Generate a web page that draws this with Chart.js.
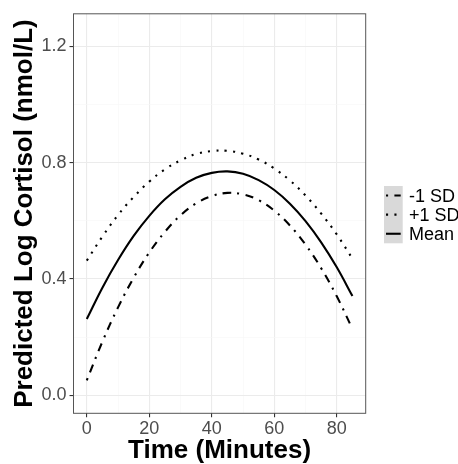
<!DOCTYPE html>
<html>
<head>
<meta charset="utf-8">
<script src="https://cdn.jsdelivr.net/npm/chart.js@4/dist/chart.umd.min.js"></script>
<style>
  html, body { margin: 0; padding: 0; background: #fff; }
  #wrap { width: 458px; height: 464px; position: relative; }
</style>
</head>
<body>
<div id="wrap"><canvas id="cortisolChart"></canvas></div>
<script>
// data (minutes vs predicted log cortisol)
const times = [0, 5, 10, 15, 20, 25, 30, 35, 40, 45, 50, 55, 60, 65, 70, 75, 80, 85];
const minusSD = [0.051, 0.184, 0.302, 0.404, 0.491, 0.562, 0.619, 0.660, 0.685, 0.696, 0.691, 0.671, 0.635, 0.584, 0.518, 0.437, 0.340, 0.228];
const plusSD = [0.463, 0.546, 0.620, 0.682, 0.735, 0.777, 0.808, 0.830, 0.840, 0.841, 0.831, 0.811, 0.780, 0.739, 0.687, 0.625, 0.553, 0.470];
const meanLine = [0.262, 0.370, 0.465, 0.548, 0.617, 0.674, 0.717, 0.748, 0.765, 0.770, 0.762, 0.740, 0.706, 0.659, 0.599, 0.526, 0.440, 0.341];
const seriesNames = ["-1 SD", "+1 SD", "Mean"];

const xTicks = [0, 20, 40, 60, 80];
const xMinor = [10, 30, 50, 70];
const yTicks = [0.0, 0.4, 0.8, 1.2];
const yMinor = [0.2, 0.6, 1.0];

const FONT = "'Liberation Sans', Arial, sans-serif";
const LW = 2.1;
const dashes = [[LW, 3 * LW, 4 * LW, 3 * LW], [LW, 3 * LW], []];

const isMajor = (list, v) => list.some((t) => Math.abs(t - v) < 1e-6);

// panel border + legend drawn by hand, ggplot style
const ggExtras = {
  id: "ggExtras",
  afterDatasetsDraw(chart) {
    const { ctx, chartArea: a } = chart;
    ctx.save();
    ctx.strokeStyle = "#555555";
    ctx.lineWidth = 1;
    ctx.strokeRect(a.left, a.top, a.right - a.left, a.bottom - a.top);
    ctx.restore();
  },
  afterDraw(chart) {
    const { ctx } = chart;
    const keyX = 384, keyW = 18.7, keyY = 186, keyH = 19.1;
    ctx.save();
    ctx.fillStyle = "#D9D9D9";
    ctx.fillRect(keyX, keyY, keyW, keyH * seriesNames.length);
    chart.data.datasets.forEach((ds, i) => {
      const cy = keyY + keyH * i + keyH / 2;
      ctx.beginPath();
      ctx.setLineDash(ds.borderDash);
      ctx.lineCap = "butt";
      ctx.lineWidth = LW;
      ctx.strokeStyle = "#000";
      ctx.moveTo(keyX + 2, cy);
      ctx.lineTo(keyX + keyW - 2, cy);
      ctx.stroke();
      ctx.setLineDash([]);
      ctx.fillStyle = "#000";
      ctx.font = `18px ${FONT}`;
      ctx.textBaseline = "middle";
      ctx.textAlign = "left";
      ctx.fillText(ds.label, 409, cy + 1);
    });
    ctx.restore();
  },
};

const datasets = [minusSD, plusSD, meanLine].map((vals, i) => ({
  label: seriesNames[i],
  data: times.map((t, j) => ({ x: t, y: vals[j] })),
  borderColor: "#000",
  borderWidth: LW,
  borderDash: dashes[i],
  borderCapStyle: "butt",
  pointRadius: 0,
  tension: 0.4,
  fill: false,
}));

const ctx = document.getElementById("cortisolChart").getContext("2d");
new Chart(ctx, {
  type: "line",
  data: { datasets: datasets },
  plugins: [ggExtras],
  options: {
    responsive: true,
    maintainAspectRatio: false,
    animation: false,
    layout: { padding: { top: 10.7, right: 92.3, left: 0, bottom: 0 } },
    plugins: { legend: { display: false }, tooltip: { enabled: false } },
    scales: {
      x: {
        type: "linear",
        min: -4.25,
        max: 89.25,
        afterBuildTicks: (s) => {
          s.ticks = [...xTicks, ...xMinor].sort((a, b) => a - b).map((v) => ({ value: v }));
        },
        afterFit: (s) => { s.height = 50.7; },
        grid: {
          color: (c) => (isMajor(xTicks, c.tick.value) ? "#EBEBEB" : "#F6F6F6"),
          lineWidth: (c) => (isMajor(xTicks, c.tick.value) ? 1.1 : 0.6),
          tickLength: 4,
          tickColor: (c) => (isMajor(xTicks, c.tick.value) ? "#333333" : "rgba(0,0,0,0)"),
        },
        border: { display: false },
        ticks: {
          autoSkip: false,
          maxRotation: 0,
          padding: 1,
          color: "#4D4D4D",
          font: { family: FONT, size: 18 },
          callback: (v) => (isMajor(xTicks, v) ? String(v) : ""),
        },
        title: {
          display: true,
          text: "Time (Minutes)",
          color: "#000",
          font: { family: FONT, size: 26, weight: "bold", lineHeight: 1.05 },
          padding: { top: 0, bottom: 0 },
        },
      },
      y: {
        type: "linear",
        min: -0.0625,
        max: 1.3125,
        afterBuildTicks: (s) => {
          s.ticks = [...yTicks, ...yMinor].sort((a, b) => a - b).map((v) => ({ value: v }));
        },
        afterFit: (s) => { s.width = 73.5; },
        grid: {
          color: (c) => (isMajor(yTicks, c.tick.value) ? "#EBEBEB" : "#F6F6F6"),
          lineWidth: (c) => (isMajor(yTicks, c.tick.value) ? 1.1 : 0.6),
          tickLength: 4,
          tickColor: (c) => (isMajor(yTicks, c.tick.value) ? "#333333" : "rgba(0,0,0,0)"),
        },
        border: { display: false },
        ticks: {
          autoSkip: false,
          padding: 3,
          color: "#4D4D4D",
          font: { family: FONT, size: 18 },
          callback: (v) => (isMajor(yTicks, v) ? v.toFixed(1) : ""),
        },
        title: {
          display: true,
          text: "Predicted Log Cortisol (nmol/L)",
          color: "#000",
          font: { family: FONT, size: 26, weight: "bold" },
          padding: { top: 9, bottom: 0 },
        },
      },
    },
  },
});
</script>
</body>
</html>
